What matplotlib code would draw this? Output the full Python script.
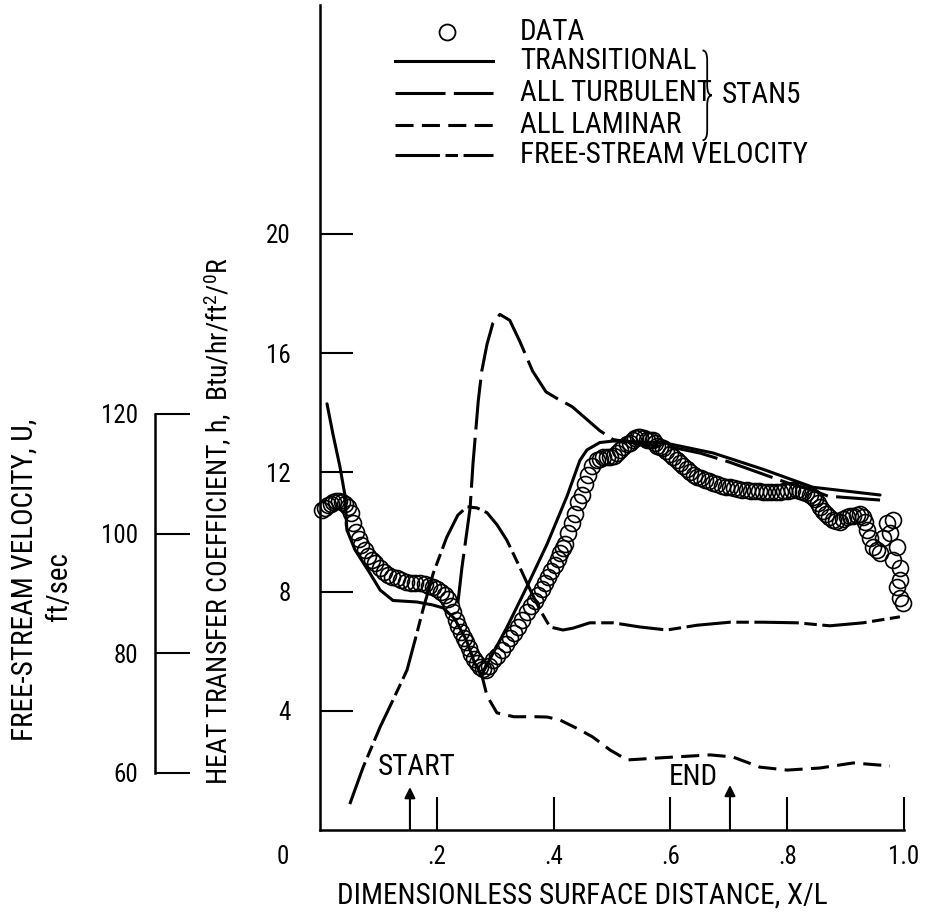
import numpy as np
import matplotlib.pyplot as plt
from matplotlib import font_manager
from matplotlib.path import Path
from matplotlib.patches import PathPatch

# the original lettering is a narrow sans; use a condensed face when one is installed
installed = {f.name for f in font_manager.fontManager.ttflist}
condensed = [n for n in ['Liberation Sans Narrow', 'DejaVu Sans Condensed', 'Roboto Condensed',
                         'Open Sans Condensed'] if n in installed]
dejavu_cond = any(f.name == 'DejaVu Sans' and 'condensed' in str(f.stretch)
                  for f in font_manager.fontManager.ttflist)
if condensed:
    FONT = condensed[0]
    FS, TS = 21, 18
elif dejavu_cond:
    FONT = 'DejaVu Sans'
    plt.rcParams['font.stretch'] = 'condensed'
    FS, TS = 19, 18
else:
    FONT = 'DejaVu Sans'
    FS, TS = 16.3, 16.3
plt.rcParams['font.family'] = [FONT, 'DejaVu Sans']
plt.rcParams['mathtext.fontset'] = 'custom'
plt.rcParams['mathtext.rm'] = FONT
plt.rcParams['mathtext.it'] = FONT
plt.rcParams['lines.scale_dashes'] = False

# measured heat transfer coefficient (open circles)
data_x = [0.003, 0.008, 0.013, 0.018, 0.023, 0.028, 0.033, 0.038, 0.043, 0.048, 0.053,
          0.057, 0.061, 0.066, 0.071, 0.077, 0.083, 0.089, 0.095, 0.102, 0.109, 0.116,
          0.123, 0.131, 0.139, 0.147, 0.155, 0.163, 0.171, 0.179, 0.187, 0.194, 0.201,
          0.208, 0.214, 0.219, 0.224, 0.228, 0.233, 0.237, 0.241, 0.246, 0.250, 0.255,
          0.259, 0.264, 0.269, 0.274, 0.279, 0.284,
          0.290, 0.296, 0.303, 0.312, 0.318, 0.325, 0.332, 0.339, 0.346, 0.354, 0.361,
          0.368, 0.374, 0.380, 0.385, 0.390, 0.396, 0.402, 0.407, 0.411, 0.416, 0.420,
          0.425, 0.432, 0.437, 0.442, 0.449, 0.454, 0.459, 0.466, 0.474, 0.480, 0.485,
          0.491, 0.497, 0.503, 0.509, 0.514, 0.519, 0.525, 0.531, 0.536, 0.540, 0.544,
          0.548, 0.554, 0.560, 0.565, 0.570, 0.574, 0.577, 0.582, 0.587, 0.593, 0.599,
          0.605, 0.611, 0.617, 0.622, 0.628, 0.634, 0.640, 0.646, 0.652, 0.659, 0.666,
          0.673, 0.680, 0.688, 0.695, 0.702, 0.709, 0.716, 0.723, 0.731, 0.738, 0.745,
          0.752, 0.759, 0.766, 0.772, 0.780, 0.788, 0.795, 0.801, 0.809, 0.817, 0.822,
          0.827, 0.833, 0.839, 0.844, 0.848, 0.852, 0.856, 0.861, 0.866, 0.872, 0.878,
          0.884, 0.890, 0.896, 0.902, 0.908, 0.913, 0.919, 0.925, 0.929, 0.933, 0.937,
          0.942, 0.947, 0.953, 0.959, 0.964, 0.971, 0.976, 0.981, 0.988, 0.981, 0.993,
          0.993, 0.988, 0.993, 0.998]
data_h = [10.75, 10.8, 10.9, 10.95, 11.0, 11.05, 11.05, 11.0, 10.95, 10.85, 10.65,
          10.3, 10.0, 9.75, 9.55, 9.4, 9.2, 9.05, 8.95, 8.8, 8.65, 8.57,
          8.5, 8.45, 8.38, 8.32, 8.3, 8.3, 8.28, 8.25, 8.2, 8.15, 8.08,
          8.0, 7.9, 7.75, 7.5, 7.3, 7.05, 6.85, 6.65, 6.45, 6.3, 6.1,
          5.9, 5.75, 5.6, 5.47, 5.4, 5.37,
          5.5, 5.7, 5.85, 6.05, 6.25, 6.45, 6.6, 6.8, 7.05, 7.3, 7.5,
          7.7, 7.9, 8.1, 8.3, 8.5, 8.7, 8.9, 9.1, 9.3, 9.45, 9.6,
          9.95, 10.3, 10.6, 11.0, 11.25, 11.6, 11.9, 12.2, 12.4, 12.45, 12.5,
          12.5, 12.5, 12.55, 12.65, 12.75, 12.85, 12.95, 13.0, 13.1, 13.15, 13.2,
          13.2, 13.15, 13.1, 13.1, 13.1, 13.0, 12.9, 12.85, 12.8, 12.7, 12.6,
          12.5, 12.4, 12.3, 12.2, 12.1, 12.0, 11.92, 11.85, 11.8, 11.75, 11.7,
          11.65, 11.6, 11.55, 11.52, 11.5, 11.47, 11.45, 11.42, 11.4, 11.38, 11.37,
          11.36, 11.35, 11.35, 11.35, 11.35, 11.35, 11.37, 11.38, 11.4, 11.4, 11.37,
          11.35, 11.3, 11.25, 11.18, 11.1, 10.97, 10.85, 10.7, 10.6, 10.5, 10.4,
          10.37, 10.35, 10.42, 10.5, 10.53, 10.55, 10.58, 10.6, 10.5, 10.35, 10.07,
          9.8, 9.5, 9.4, 9.3, 9.8, 10.3, 9.97, 10.4, 9.5, 9.06, 8.8,
          8.4, 8.15, 7.8, 7.62]

# STAN5 predictions
trans_x = [0.012, 0.022, 0.034, 0.043, 0.046, 0.060, 0.086, 0.103, 0.125, 0.166, 0.193,
           0.211, 0.230, 0.250, 0.265, 0.277, 0.290, 0.320, 0.354, 0.389, 0.423, 0.445,
           0.457, 0.479, 0.502, 0.587, 0.673, 0.759, 0.844, 0.959]
trans_h = [14.3, 13.3, 12.2, 11.2, 10.07, 9.4, 8.6, 8.05, 7.7, 7.65, 7.55,
           7.45, 7.1, 6.4, 5.6, 5.2, 5.7, 6.8, 8.15, 9.6, 11.2, 12.4,
           12.75, 13.0, 13.05, 13.0, 12.65, 12.1, 11.5, 11.24]

turb_x = [0.236, 0.243, 0.257, 0.262, 0.271, 0.277, 0.286, 0.296, 0.308, 0.325, 0.342,
          0.364, 0.387, 0.404, 0.432, 0.479, 0.502, 0.550, 0.600, 0.650, 0.700, 0.750,
          0.800, 0.850, 0.870, 0.959]
turb_h = [7.6, 8.8, 10.8, 12.3, 14.4, 15.4, 16.3, 17.0, 17.3, 17.1, 16.4,
          15.4, 14.7, 14.5, 14.2, 13.4, 13.1, 12.95, 12.85, 12.65, 12.35, 12.0,
          11.65, 11.35, 11.2, 11.07]

lam_x = [0.277, 0.286, 0.303, 0.332, 0.370, 0.389, 0.411, 0.445, 0.467, 0.497, 0.526,
         0.582, 0.668, 0.707, 0.753, 0.800, 0.856, 0.913, 0.976]
lam_h = [5.2, 4.5, 3.93, 3.8, 3.8, 3.79, 3.69, 3.36, 3.12, 2.68, 2.35,
         2.42, 2.52, 2.45, 2.11, 2.01, 2.08, 2.25, 2.15]

# free-stream velocity, ft/sec
vel_x = [0.051, 0.074, 0.103, 0.125, 0.149, 0.166, 0.176, 0.194, 0.217, 0.236, 0.252,
         0.269, 0.286, 0.303, 0.320, 0.342, 0.360, 0.377, 0.394, 0.416, 0.433, 0.462,
         0.502, 0.548, 0.594, 0.646, 0.702, 0.759, 0.817, 0.873, 0.930, 0.993]
vel_u = [54.8, 61.0, 67.7, 72.2, 77.2, 83.4, 87.2, 93.4, 99.4, 103.1, 104.5,
         104.3, 103.5, 101.5, 98.9, 94.4, 90.6, 87.2, 84.4, 83.9, 84.2, 85.1,
         85.1, 84.4, 83.9, 84.7, 85.2, 85.2, 85.1, 84.6, 85.1, 86.1]

start_x = 0.154
end_x = 0.702

LW = 2.2
TURB_DASH = (0, (36, 6))
LAM_DASH = (0, (13, 6))
VEL_DASH = (0, (32, 4, 9, 4))

fig = plt.figure(figsize=(9.27, 9.13), dpi=100)
rect = [320 / 927, 83 / 913, 584 / 927, 825 / 913]
ax = fig.add_axes(rect)
ax2 = fig.add_axes(rect)
ax2.patch.set_visible(False)

ax.set_xlim(0, 1.0)
ax.set_ylim(0, 27.68)
ax2.set_xlim(0, 1.0)
ax2.set_ylim(50.47, 188.36)

for s in ['top', 'right']:
    ax.spines[s].set_visible(False)
for s in ['left', 'bottom']:
    ax.spines[s].set_linewidth(1.8)
for s in ['top', 'right', 'bottom']:
    ax2.spines[s].set_visible(False)
ax2.spines['left'].set_position(('axes', -0.2825))
ax2.spines['left'].set_bounds(60, 120)
ax2.spines['left'].set_linewidth(1.8)

ax.set_xticks([0.2, 0.4, 0.6, 0.8, 1.0])
ax.set_xticklabels(['.2', '.4', '.6', '.8', '1.0'])
ax.set_yticks([4, 8, 12, 16, 20])
ax.tick_params(axis='x', direction='in', length=24, width=1.5, labelsize=TS, pad=11)
ax.tick_params(axis='y', direction='in', length=24, width=1.5, labelsize=TS, pad=21)
ax2.set_xticks([])
ax2.set_yticks([60, 80, 100, 120])
ax2.tick_params(axis='y', direction='in', length=25, width=1.5, labelsize=TS, pad=12)

ax.plot(trans_x, trans_h, color='black', lw=LW, solid_capstyle='round')
ax.plot(turb_x, turb_h, color='black', lw=LW, linestyle=TURB_DASH)
ax.plot(lam_x, lam_h, color='black', lw=LW, linestyle=LAM_DASH)
ax2.plot(vel_x, vel_u, color='black', lw=LW, linestyle=VEL_DASH)
ax.plot(data_x, data_h, 'o', ms=11.5, mfc='none', mec='black', mew=1.2, clip_on=False, zorder=5)

# legend drawn by hand
tr = ax.transAxes
lx0, lx1, tx = 0.128, 0.296, 0.342
ax.plot([0.2175], [0.967], 'o', ms=11.5, mfc='none', mec='black', mew=1.3, transform=tr, clip_on=False)
rows = [(0.9321, '-', 'TRANSITIONAL'),
        (0.8933, TURB_DASH, 'ALL TURBULENT'),
        (0.8545, LAM_DASH, 'ALL LAMINAR'),
        (0.8182, VEL_DASH, 'FREE-STREAM VELOCITY')]
ax.text(tx, 0.967, 'DATA', transform=tr, fontsize=FS, va='center', ha='left')
for y, ls, label in rows:
    ax.plot([lx0, lx1], [y, y], color='black', lw=LW, linestyle=ls, transform=tr, clip_on=False)
    ax.text(tx, y, label, transform=tr, fontsize=FS, va='center', ha='left')

# brace grouping the STAN5 curves
bx0, bw = 0.655, 0.016
bxm = bx0 + bw / 2
yt, yb = 0.945, 0.836
ym = (yt + yb) / 2
d = 0.012
verts = [(bx0, yt), (bxm, yt), (bxm, yt - d), (bxm, ym + d), (bxm, ym), (bx0 + bw, ym),
         (bxm, ym), (bxm, ym - d), (bxm, yb + d), (bxm, yb), (bx0, yb)]
codes = [Path.MOVETO, Path.CURVE3, Path.CURVE3, Path.LINETO, Path.CURVE3, Path.CURVE3,
         Path.CURVE3, Path.CURVE3, Path.LINETO, Path.CURVE3, Path.CURVE3]
ax.add_patch(PathPatch(Path(verts, codes), transform=tr, fill=False, lw=1.3, clip_on=False))
ax.text(0.688, ym, 'STAN5', transform=tr, fontsize=FS, va='center', ha='left')

# start / end of the region
arrow = dict(arrowstyle='-|>', lw=1.5, color='black', mutation_scale=16, shrinkA=0, shrinkB=0)
ax.annotate('', xy=(start_x, 1.44), xytext=(start_x, 0), arrowprops=arrow)
ax.annotate('', xy=(end_x, 1.51), xytext=(end_x, 0), arrowprops=arrow)
ax.text(start_x + 0.012, 2.11, 'START', fontsize=FS, ha='center', va='center')
ax.text(end_x - 0.063, 1.78, 'END', fontsize=FS, ha='center', va='center')

ax.text(-0.063, -0.0327, '0', transform=tr, fontsize=TS, ha='center', va='center')

ax.set_xlabel('DIMENSIONLESS SURFACE DISTANCE, X/L', fontsize=FS)
ax.xaxis.set_label_coords(0.45, -0.062)
ax.set_ylabel(r'HEAT TRANSFER COEFFICIENT, h,  Btu/hr/ft$^{2}$/$^{0}$R', fontsize=FS - 1)
ax.yaxis.set_label_coords(-0.147, 0.375)

fig.text(25 / 927, 1 - 580 / 913, 'FREE-STREAM VELOCITY, U,', rotation=90,
         fontsize=FS, ha='center', va='center')
fig.text(59 / 927, 1 - 587 / 913, 'ft/sec', rotation=90, fontsize=FS, ha='center', va='center')

fig.savefig('out.png', dpi=100)
